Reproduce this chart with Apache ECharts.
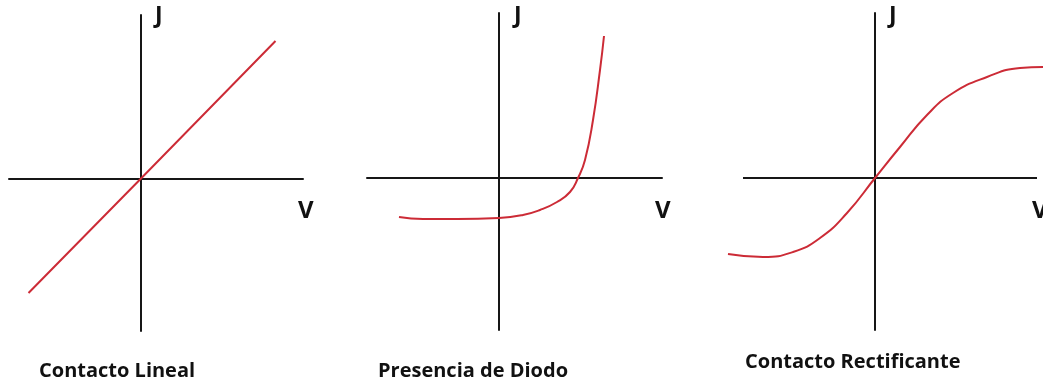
<!DOCTYPE html>
<html>
<head>
<meta charset="utf-8">
<script src="https://cdn.jsdelivr.net/npm/echarts@6/dist/echarts.min.js"></script>
<style>
  html, body { margin: 0; padding: 0; background: #ffffff; }
  #chart { width: 1043px; height: 383px; }
</style>
</head>
<body>
<div id="chart"></div>
<script>
// J–V characteristics of three contact types (schematic, arbitrary units)
const panelTitles = ['Contacto Lineal', 'Presencia de Diodo', 'Contacto Rectificante'];
const axisNameJ = 'J';
const axisNameV = 'V';

// Ohmic contact: straight line through the origin
const linealV = [-11.2, 0, 13.5];
const linealJ = [-11.4, 0, 13.8];

// Diode: flat reverse current, exponential rise in forward bias
const diodoV = [-10.0, -7.6, -4.2, 0, 2.4, 4.1, 5.8, 7.1, 7.9, 8.6, 9.4, 10.1, 10.5];
const diodoJ = [-3.9, -4.1, -4.1, -4.0, -3.7, -3.2, -2.4, -1.4, 0, 1.8, 5.8, 10.8, 14.2];

// Rectifying contact: S-shaped curve saturating at both ends
const rectV = [-14.7, -11.2, -8.2, -5.5, -2.8, 0, 2.5, 5.2, 7.8, 11.2, 14.5, 16.8];
const rectJ = [-7.6, -7.9, -7.4, -6.0, -3.5, 0, 3.1, 6.3, 8.5, 10.1, 11.0, 11.1];

// Extent of the V axis drawn in the third panel (the curve runs past it)
const rectAxisV = [-13.2, 16.2];

const pairs = (xs, ys) => xs.map((x, i) => [x, ys[i]]);

const AXIS_COLOR = '#161616';
const CURVE_COLOR = '#cc2b36';
const FONT = '"Open Sans", "Noto Sans", sans-serif';

const grids = [
  { left: 9,   top: 15, width: 294, height: 316 },
  { left: 367, top: 13, width: 295, height: 317 },
  { left: 728, top: 13, width: 315, height: 317 }
];
const xRanges = [[-13.15, 16.25], [-13.2, 16.3], [-14.7, 16.8]];
const yRanges = [[-15.2, 16.4], [-15.2, 16.5], [-15.2, 16.5]];

const axisLineStyle = { color: AXIS_COLOR, width: 2 };
const axisCommon = {
  type: 'value',
  axisTick: { show: false },
  axisLabel: { show: false },
  splitLine: { show: false }
};

const xAxis = xRanges.map((r, i) => Object.assign({}, axisCommon, {
  gridIndex: i, min: r[0], max: r[1],
  axisLine: { show: i !== 2, onZero: true, lineStyle: axisLineStyle }
}));
const yAxis = yRanges.map((r, i) => Object.assign({}, axisCommon, {
  gridIndex: i, min: r[0], max: r[1],
  axisLine: { show: true, onZero: true, lineStyle: axisLineStyle }
}));

const curves = [pairs(linealV, linealJ), pairs(diodoV, diodoJ), pairs(rectV, rectJ)];
const series = curves.map((data, i) => ({
  type: 'line',
  xAxisIndex: i,
  yAxisIndex: i,
  data: data,
  smooth: i === 0 ? false : 0.5,
  symbol: 'none',
  lineStyle: { color: CURVE_COLOR, width: 2 },
  z: 3
}));

// horizontal V axis of the third panel, shorter than its curve
series.push({
  type: 'line',
  xAxisIndex: 2,
  yAxisIndex: 2,
  data: rectAxisV.map(v => [v, 0]),
  symbol: 'none',
  lineStyle: axisLineStyle,
  z: 2
});

const labelStyle = { fontFamily: FONT, fontWeight: 'bold', color: '#111111' };
const jPos = [[155, 5], [514, 5], [889, 5]];
const vPos = [[298, 199], [655, 199], [1032, 199]];
const capPos = [[39, 361], [378, 361], [745, 352]];

const titles = [];
jPos.forEach(p => titles.push({ text: axisNameJ, left: p[0], top: p[1], padding: 0,
  textStyle: Object.assign({ fontSize: 23 }, labelStyle) }));
vPos.forEach(p => titles.push({ text: axisNameV, left: p[0], top: p[1], padding: 0,
  textStyle: Object.assign({ fontSize: 24 }, labelStyle) }));
capPos.forEach((p, i) => titles.push({ text: panelTitles[i], left: p[0], top: p[1], padding: 0,
  textStyle: Object.assign({ fontSize: 20 }, labelStyle) }));

const chart = echarts.init(document.getElementById('chart'), null, { renderer: 'canvas' });
chart.setOption({
  animation: false,
  backgroundColor: '#ffffff',
  title: titles,
  grid: grids,
  xAxis: xAxis,
  yAxis: yAxis,
  series: series
});
</script>
</body>
</html>
